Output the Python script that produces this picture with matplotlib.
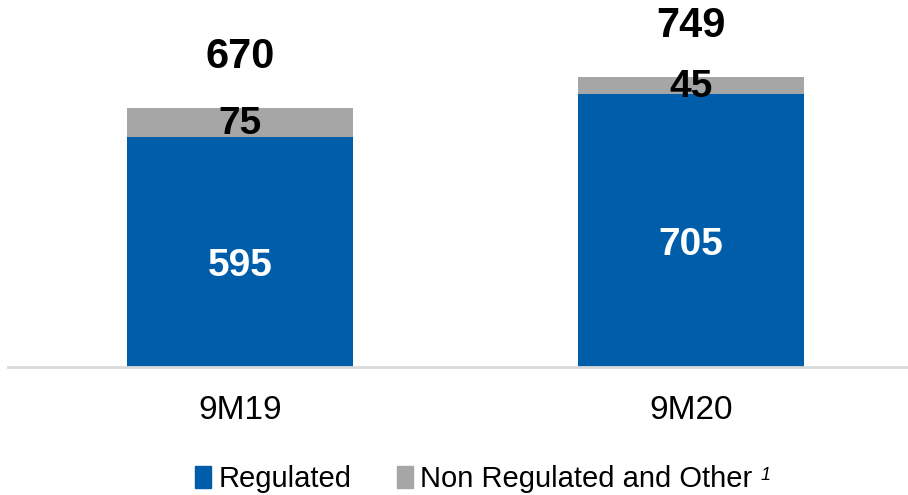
import matplotlib.pyplot as plt
from matplotlib.patches import Patch

plt.rcParams['font.family'] = ['Liberation Sans', 'DejaVu Sans']

# data
categories = ['9M19', '9M20']
regulated = [595, 705]
non_regulated = [75, 45]
totals = [670, 749]

blue = '#005DAA'
grey = '#A6A6A6'

fig = plt.figure(figsize=(9.08, 4.95), dpi=100)
ax = fig.add_axes([8 / 908, 128 / 495, 900 / 908, 367 / 495])

x = list(range(len(categories)))
ax.bar(x, regulated, width=0.5, color=blue)
ax.bar(x, non_regulated, width=0.5, bottom=regulated, color=grey)

for i in x:
    ax.annotate(str(regulated[i]), (i, regulated[i] / 2), xytext=(0, -10),
                textcoords='offset points', ha='center', va='center',
                color='white', fontsize=28, fontweight='bold')
    ax.annotate(str(non_regulated[i]), (i, regulated[i] + non_regulated[i] / 2),
                xytext=(0, -1), textcoords='offset points', ha='center', va='center',
                color='black', fontsize=28, fontweight='bold')
    ax.annotate(str(totals[i]), (i, totals[i]), xytext=(0, 37),
                textcoords='offset points', ha='center', va='center',
                color='black', fontsize=30, fontweight='bold')

ax.set_xlim(-0.514, 1.481)
ax.set_ylim(0, 949)
ax.set_yticks([])
ax.set_xticks(x)
ax.set_xticklabels(categories, fontsize=24)
ax.tick_params(axis='x', length=0, pad=20)
for s in ['top', 'right', 'left']:
    ax.spines[s].set_visible(False)
ax.spines['bottom'].set_color('#D9D9D9')
ax.spines['bottom'].set_linewidth(2)

handles = [Patch(color=blue, label='Regulated'),
           Patch(color=grey, label='Non Regulated and Other')]
leg = fig.legend(handles=handles, loc='center', bbox_to_anchor=(0.522, 0.032), ncol=2,
                 frameon=False, fontsize=21, handlelength=0.55, handleheight=0.75,
                 handletextpad=0.25, columnspacing=1.55)

# italic footnote marker after the last legend entry
fig.canvas.draw()
bb = leg.get_texts()[-1].get_window_extent().transformed(fig.transFigure.inverted())
fig.text(bb.x1 + 0.009, bb.y1 - 0.003, '1', fontsize=13, style='italic', va='top')

fig.savefig('out.png', dpi=100)
